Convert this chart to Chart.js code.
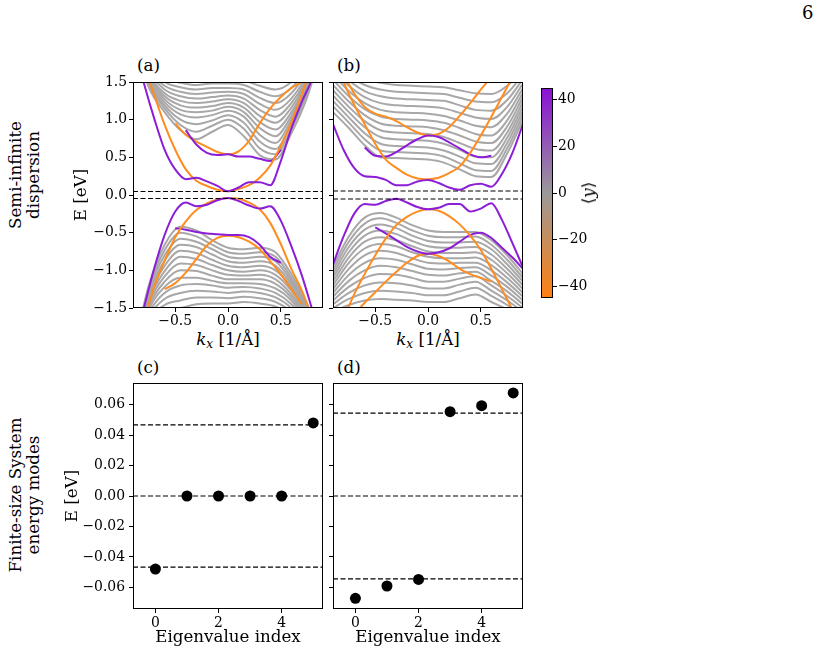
<!DOCTYPE html>
<html>
<head>
<meta charset="utf-8">
<title>Semi-infinite dispersion and finite-size modes</title>
<script src="https://cdn.jsdelivr.net/npm/chart.js@4.4.1/dist/chart.umd.min.js"></script>
<style>
  html, body { margin: 0; padding: 0; background: #fff; }
  body { position: relative; width: 820px; height: 654px; overflow: hidden;
         font-family: "DejaVu Serif", serif; color: #000; }
  canvas { position: absolute; }
  .lbl { position: absolute; font-size: 16.7px; line-height: 20px; white-space: nowrap; }
  .mid { transform: translate(-50%, -50%); }
  .rot { position: absolute; font-size: 16.7px; line-height: 18px; white-space: nowrap;
         text-align: center; transform: translate(-50%, -50%) rotate(-90deg); }
  .br { font-family: "DejaVu Serif", "DejaVu Sans", serif; }
  sub { font-size: 12px; vertical-align: -3px; line-height: 0; }
</style>
</head>
<body>
<div class="lbl" style="left:802px;top:3px;font-size:18px">6</div>
<div class="lbl" style="left:137px;top:55px">(a)</div>
<div class="lbl" style="left:337px;top:55px">(b)</div>
<div class="lbl" style="left:137px;top:357px">(c)</div>
<div class="lbl" style="left:337px;top:357px">(d)</div>
<div class="rot" style="left:24px;top:175px">Semi-infinite<br>dispersion</div>
<div class="rot" style="left:24px;top:495px">Finite-size System<br>energy modes</div>
<div class="lbl mid" style="left:228px;top:339px"><i>k</i><sub><i>x</i></sub> [1/Å]</div>
<div class="lbl mid" style="left:428px;top:339px"><i>k</i><sub><i>x</i></sub> [1/Å]</div>

<canvas id="ca" width="270" height="285" style="left:60px;top:70px"></canvas>
<canvas id="cbb" width="205" height="285" style="left:325px;top:70px"></canvas>
<canvas id="cc" width="275" height="284" style="left:55px;top:370px"></canvas>
<canvas id="cd" width="205" height="284" style="left:325px;top:370px"></canvas>
<canvas id="cbar" width="70" height="230" style="left:535px;top:78px"></canvas>
<div class="rot br" style="left:588px;top:193px">⟨<i>y</i>⟩</div>

<script>
// ---- data ----
var K_FINE = [-0.9, -0.8, -0.7, -0.6, -0.5, -0.4, -0.3, -0.2, -0.1, 0, 0.1, 0.2, 0.3, 0.4, 0.5, 0.6, 0.7, 0.8, 0.9];
var K_COARSE = [-0.9, -0.75, -0.6, -0.45, -0.3, -0.15, 0, 0.15, 0.3, 0.45, 0.6, 0.75, 0.9];
var KX_RANGE = [-0.9, 0.9];
var KX_TICKS = [-0.5, 0, 0.5];
var E_TICKS = [-1.5, -1.0, -0.5, 0, 0.5, 1.0, 1.5];

// (a) edge-like bands (purple = +<y>, orange = -<y>)
var A_PU1 = [2.05, 1.50, 1.02, 0.60, 0.34, 0.21, 0.23, 0.18, 0.12, 0.05, 0.10, 0.17, 0.17, 0.13, 0.45, 0.88, 1.24, 1.55, 2.00];
var A_OU1 = [2.20, 1.75, 1.33, 0.93, 0.60, 0.34, 0.19, 0.12, 0.07, 0.05, 0.08, 0.13, 0.23, 0.39, 0.65, 0.96, 1.34, 1.75, 2.20];
var A_PU2 = [null, null, null, null, null, 0.86, 0.67, 0.56, 0.53, 0.54, 0.51, 0.51, 0.48, 0.45, 0.60, null, null, null, null];
var A_OU2 = [null, null, null, null, 0.95, 0.80, 0.71, 0.64, 0.57, 0.54, 0.58, 0.72, 0.95, 1.15, 1.30, 1.42, 1.50, 1.60, null];
var A_PL1 = [-2.10, -1.52, -0.98, -0.53, -0.22, -0.10, -0.15, -0.13, -0.07, -0.04, -0.08, -0.14, -0.18, -0.15, -0.34, -0.68, -1.07, -1.53, -2.00];
var A_OL1 = [-2.20, -1.70, -1.22, -0.87, -0.56, -0.35, -0.20, -0.11, -0.06, -0.04, -0.05, -0.10, -0.19, -0.37, -0.65, -0.98, -1.27, -1.65, -2.10];
var A_PL2 = [null, null, null, null, -0.44, -0.46, -0.49, -0.51, -0.52, -0.53, -0.53, -0.56, -0.66, -0.82, -0.90, null, null, null, null];
var A_OL2 = [null, null, null, -1.25, -1.17, -1.03, -0.85, -0.67, -0.57, -0.54, -0.56, -0.62, -0.72, -0.88, -1.05, -1.25, -1.45, null, null];
var A_GAP = [0.047, -0.047];

// (a) bulk bands (grey), on K_COARSE
var A_UP_GRAY = [
  [2.10, 1.43, 1.10, 0.86, 0.74, 0.84, 0.93, 0.78, 0.53, 0.47, 0.82, 1.30, 2.00],
  [2.15, 1.47, 1.15, 0.93, 0.84, 0.92, 1.00, 0.88, 0.62, 0.54, 0.88, 1.35, 2.00],
  [2.20, 1.50, 1.19, 1.00, 0.94, 0.99, 1.06, 0.96, 0.71, 0.61, 0.94, 1.40, 2.00],
  [2.20, 1.53, 1.23, 1.07, 1.03, 1.06, 1.12, 1.04, 0.80, 0.69, 1.00, 1.44, 2.00],
  [2.20, 1.56, 1.27, 1.13, 1.10, 1.12, 1.17, 1.10, 0.89, 0.78, 1.05, 1.47, 2.05],
  [2.25, 1.59, 1.31, 1.19, 1.16, 1.18, 1.22, 1.16, 0.97, 0.87, 1.10, 1.50, 2.05],
  [2.25, 1.62, 1.35, 1.25, 1.22, 1.24, 1.27, 1.22, 1.05, 0.96, 1.16, 1.53, 2.05],
  [2.25, 1.65, 1.40, 1.31, 1.28, 1.30, 1.32, 1.28, 1.13, 1.04, 1.22, 1.56, 2.10],
  [2.30, 1.68, 1.45, 1.37, 1.34, 1.36, 1.37, 1.34, 1.21, 1.13, 1.28, 1.60, 2.10],
  [2.30, 1.72, 1.50, 1.43, 1.40, 1.42, 1.42, 1.40, 1.29, 1.22, 1.35, 1.65, 2.10],
  [2.30, 1.76, 1.55, 1.49, 1.46, 1.48, 1.48, 1.46, 1.37, 1.31, 1.42, 1.70, 2.15],
  [2.35, 1.80, 1.60, 1.55, 1.52, 1.54, 1.54, 1.52, 1.45, 1.40, 1.50, 1.75, 2.15]
];
var A_LO_GRAY = [
  [-2.10, -1.20, -0.66, -0.42, -0.47, -0.60, -0.70, -0.72, -0.70, -0.76, -1.05, -1.45, -2.00],
  [-2.10, -1.24, -0.73, -0.50, -0.55, -0.66, -0.76, -0.78, -0.76, -0.82, -1.10, -1.48, -2.00],
  [-2.15, -1.28, -0.80, -0.58, -0.62, -0.72, -0.82, -0.84, -0.82, -0.88, -1.14, -1.51, -2.00],
  [-2.15, -1.32, -0.87, -0.66, -0.69, -0.79, -0.88, -0.90, -0.88, -0.94, -1.18, -1.54, -2.05],
  [-2.15, -1.36, -0.94, -0.74, -0.77, -0.86, -0.94, -0.96, -0.94, -1.00, -1.22, -1.57, -2.05],
  [-2.20, -1.40, -1.01, -0.82, -0.85, -0.93, -1.00, -1.02, -1.00, -1.06, -1.27, -1.60, -2.05],
  [-2.20, -1.44, -1.08, -0.91, -0.93, -1.00, -1.06, -1.07, -1.06, -1.12, -1.32, -1.63, -2.10],
  [-2.20, -1.48, -1.15, -1.00, -1.01, -1.07, -1.12, -1.12, -1.12, -1.18, -1.36, -1.66, -2.10],
  [-2.25, -1.53, -1.22, -1.10, -1.10, -1.14, -1.17, -1.17, -1.18, -1.24, -1.40, -1.69, -2.10],
  [-2.25, -1.58, -1.30, -1.20, -1.18, -1.20, -1.23, -1.22, -1.24, -1.30, -1.45, -1.72, -2.15],
  [-2.25, -1.63, -1.38, -1.30, -1.27, -1.28, -1.30, -1.28, -1.30, -1.36, -1.50, -1.76, -2.15],
  [-2.30, -1.68, -1.46, -1.40, -1.36, -1.36, -1.37, -1.35, -1.37, -1.42, -1.55, -1.80, -2.15],
  [-2.30, -1.73, -1.54, -1.50, -1.45, -1.44, -1.44, -1.42, -1.44, -1.48, -1.60, -1.85, -2.20]
];

// (b) edge-like bands
var B_PU1 = [0.94, 0.60, 0.36, 0.25, 0.24, 0.20, 0.13, 0.13, 0.18, 0.20, 0.16, 0.10, 0.07, 0.13, 0.15, 0.11, 0.28, 0.56, 0.94];
var B_OU1 = [1.90, 1.50, 1.20, 0.94, 0.68, 0.47, 0.36, 0.27, 0.22, 0.21, 0.23, 0.29, 0.38, 0.56, 0.79, 1.04, 1.30, 1.57, 1.90];
var B_PU2 = [null, null, null, 0.63, 0.52, 0.51, 0.57, 0.66, 0.74, 0.79, 0.77, 0.70, 0.62, 0.54, 0.50, 0.52, null, null, null];
var B_OU2 = [null, 1.60, 1.35, 1.17, 1.08, 1.04, 0.98, 0.90, 0.83, 0.79, 0.81, 0.90, 1.05, 1.22, 1.40, 1.56, null, null, null];
var B_PL1 = [-0.92, -0.55, -0.25, -0.12, -0.13, -0.08, -0.05, -0.10, -0.16, -0.19, -0.17, -0.12, -0.12, -0.22, -0.18, -0.11, -0.33, -0.64, -0.96];
var B_OL1 = [-2.00, -1.65, -1.32, -1.05, -0.80, -0.58, -0.40, -0.29, -0.22, -0.19, -0.21, -0.28, -0.39, -0.54, -0.73, -0.98, -1.25, -1.53, -1.90];
var B_PL2 = [null, null, null, null, -0.43, -0.51, -0.60, -0.69, -0.75, -0.78, -0.76, -0.71, -0.62, -0.53, -0.50, -0.57, -0.70, -0.83, -0.98];
var B_OL2 = [null, -1.72, -1.58, -1.43, -1.29, -1.15, -1.02, -0.90, -0.81, -0.78, -0.81, -0.88, -0.98, -1.05, -1.10, -1.15, null, null, null];
var B_GAP = [0.053, -0.053];

var B_UP_GRAY = [
  [1.10, 0.89, 0.66, 0.50, 0.49, 0.48, 0.47, 0.43, 0.34, 0.25, 0.24, 0.55, 1.00],
  [1.18, 0.96, 0.74, 0.59, 0.57, 0.56, 0.55, 0.51, 0.42, 0.33, 0.32, 0.62, 1.06],
  [1.25, 1.03, 0.82, 0.68, 0.65, 0.64, 0.63, 0.59, 0.51, 0.42, 0.41, 0.69, 1.12],
  [1.32, 1.10, 0.90, 0.77, 0.74, 0.73, 0.72, 0.68, 0.60, 0.51, 0.50, 0.76, 1.18],
  [1.39, 1.17, 0.98, 0.86, 0.83, 0.82, 0.81, 0.77, 0.69, 0.61, 0.59, 0.83, 1.24],
  [1.46, 1.24, 1.06, 0.95, 0.92, 0.91, 0.90, 0.86, 0.79, 0.71, 0.69, 0.91, 1.30],
  [1.53, 1.31, 1.14, 1.04, 1.01, 1.00, 0.99, 0.96, 0.89, 0.81, 0.79, 0.99, 1.36],
  [1.60, 1.38, 1.22, 1.13, 1.10, 1.09, 1.08, 1.05, 0.99, 0.92, 0.90, 1.08, 1.42],
  [1.66, 1.45, 1.30, 1.22, 1.19, 1.18, 1.17, 1.15, 1.09, 1.03, 1.01, 1.17, 1.48],
  [1.72, 1.52, 1.38, 1.31, 1.28, 1.27, 1.26, 1.25, 1.19, 1.13, 1.12, 1.26, 1.54],
  [1.78, 1.59, 1.46, 1.40, 1.37, 1.36, 1.35, 1.34, 1.29, 1.24, 1.23, 1.35, 1.60],
  [1.85, 1.66, 1.54, 1.49, 1.46, 1.45, 1.44, 1.43, 1.39, 1.35, 1.34, 1.45, 1.66]
];
var B_LO_GRAY = [
  [-0.95, -0.55, -0.30, -0.24, -0.30, -0.40, -0.47, -0.49, -0.49, -0.49, -0.60, -0.80, -1.05],
  [-1.00, -0.62, -0.38, -0.31, -0.37, -0.47, -0.54, -0.56, -0.56, -0.55, -0.66, -0.86, -1.10],
  [-1.05, -0.69, -0.46, -0.39, -0.44, -0.54, -0.61, -0.63, -0.63, -0.62, -0.72, -0.92, -1.15],
  [-1.10, -0.76, -0.54, -0.47, -0.52, -0.61, -0.68, -0.70, -0.70, -0.69, -0.79, -0.98, -1.20],
  [-1.15, -0.83, -0.62, -0.56, -0.60, -0.68, -0.75, -0.77, -0.77, -0.76, -0.86, -1.04, -1.25],
  [-1.20, -0.90, -0.71, -0.65, -0.68, -0.76, -0.82, -0.84, -0.84, -0.83, -0.93, -1.10, -1.30],
  [-1.25, -0.98, -0.80, -0.74, -0.77, -0.84, -0.90, -0.91, -0.90, -0.90, -1.00, -1.16, -1.35],
  [-1.30, -1.06, -0.90, -0.84, -0.86, -0.92, -0.98, -0.99, -0.97, -0.96, -1.07, -1.22, -1.40],
  [-1.35, -1.14, -1.00, -0.94, -0.96, -1.01, -1.06, -1.07, -1.04, -1.02, -1.14, -1.28, -1.45],
  [-1.40, -1.22, -1.10, -1.05, -1.06, -1.10, -1.15, -1.15, -1.11, -1.08, -1.20, -1.34, -1.50],
  [-1.45, -1.30, -1.20, -1.16, -1.17, -1.20, -1.24, -1.24, -1.19, -1.15, -1.27, -1.40, -1.55],
  [-1.50, -1.38, -1.30, -1.27, -1.28, -1.30, -1.33, -1.33, -1.28, -1.23, -1.34, -1.46, -1.60],
  [-1.55, -1.46, -1.40, -1.38, -1.39, -1.40, -1.42, -1.42, -1.37, -1.32, -1.42, -1.52, -1.65]
];

// (c), (d) finite-size eigenvalues
var IDX = [0, 1, 2, 3, 4, 5];
var C_E = [-0.048, 0, 0, 0, 0, 0.048];
var D_E = [-0.0672, -0.0591, -0.0548, 0.0554, 0.0593, 0.0677];
var C_LINES = [0.0467, 0, -0.0467];
var D_LINES = [0.0544, 0, -0.0544];
var IDX_RANGE = [-0.71, 5.31];
var IDX_TICKS = [0, 2, 4];
var SMALL_E_TICKS = [-0.06, -0.04, -0.02, 0, 0.02, 0.04, 0.06];
var SMALL_E_LIM = 0.0742;

// colour bar
var CB_MIN = -45, CB_MAX = 45;
var CB_TICKS = [-40, -20, 0, 20, 40];
var CB_COLORS = ["#ff8010", "#9b9999", "#8a10d6"];

// ---- styling ----
var PURPLE = "#8b1ed6", ORANGE = "#ff8c1e", GRAY = "#a9a7a7";
var DASH = [5, 2.5];
var FONT_TICK = { family: "'DejaVu Serif', serif", size: 13.9 };
var FONT_LAB = { family: "'DejaVu Serif', serif", size: 16.7 };

Chart.defaults.font.family = "'DejaVu Serif', serif";
Chart.defaults.color = "#000";

function fmt(v, d) {
  return (v < 0 ? "\u2212" : "") + Math.abs(v).toFixed(d);
}

function pts(K, E) {
  var out = [];
  K.forEach(function (k, i) { if (E[i] !== null) out.push({ x: k, y: E[i] }); });
  return out;
}

function line(K, E, color, width, dash) {
  return {
    data: pts(K, E), showLine: true, borderColor: color, borderWidth: width,
    borderDash: dash || [], pointRadius: 0, cubicInterpolationMode: "monotone", clip: 0
  };
}

// axes box around the plot area, like matplotlib spines
var frame = {
  id: "frame",
  afterDraw: function (chart) {
    var a = chart.chartArea, c = chart.ctx;
    c.save();
    c.strokeStyle = "#000";
    c.lineWidth = 1;
    c.strokeRect(Math.round(a.left) + 0.5, Math.round(a.top) + 0.5,
      Math.round(a.right - a.left) - 1, Math.round(a.bottom - a.top) - 1);
    c.restore();
  }
};

function axis(o) {
  return {
    type: "linear", min: o.min, max: o.max, position: o.position,
    afterBuildTicks: function (s) { s.ticks = o.ticks.map(function (v) { return { value: v }; }); },
    afterFit: function (s) {
      if (o.w != null) s.width = o.w;
      if (o.h != null) s.height = o.h;
    },
    grid: { drawOnChartArea: false, drawTicks: true, tickLength: 4, color: "#000", tickColor: "#000", tickWidth: 1 },
    border: { display: false },
    ticks: {
      display: o.labels !== false, padding: o.pad, color: "#000", font: FONT_TICK,
      maxRotation: 0, autoSkip: false,
      callback: function (v) { return fmt(v, o.dec); }
    },
    title: o.title ? { display: true, text: o.title, color: "#000", font: FONT_LAB, padding: o.tpad } : { display: false }
  };
}

function base(pad, scales) {
  return {
    responsive: false, animation: false, events: [],
    layout: { padding: pad },
    plugins: { legend: { display: false }, tooltip: { enabled: false } },
    scales: scales
  };
}

function bandPanel(id, o) {
  var ds = [];
  o.gap.forEach(function (g) { ds.push(line(KX_RANGE, [g, g], "#000", 1.1, DASH)); });
  o.colored.forEach(function (c) { ds.push(line(K_FINE, c[0], c[1], 2)); });
  o.grays.forEach(function (g) { ds.push(line(K_COARSE, g, GRAY, 2)); });
  return new Chart(document.getElementById(id), {
    type: "scatter",
    data: { datasets: ds },
    options: base(o.pad, {
      x: axis({ min: KX_RANGE[0], max: KX_RANGE[1], ticks: KX_TICKS, dec: 1, h: 47, pad: 1 }),
      y: axis({ min: -1.5, max: 1.5, ticks: E_TICKS, dec: 1, w: o.yw, pad: 2, labels: o.ylabels,
                title: o.ylabels ? "E [eV]" : null, tpad: { top: 12, bottom: 0 } })
    }),
    plugins: [frame]
  });
}

function modesPanel(id, o) {
  var ds = [{
    data: pts(IDX, o.E), pointRadius: 5.5, pointBackgroundColor: "#000",
    pointBorderWidth: 0, showLine: false
  }];
  o.lines.forEach(function (v) { ds.push(line(IDX_RANGE, [v, v], "#000", 1.1, DASH)); });
  return new Chart(document.getElementById(id), {
    type: "scatter",
    data: { datasets: ds },
    options: base(o.pad, {
      x: axis({ min: IDX_RANGE[0], max: IDX_RANGE[1], ticks: IDX_TICKS, dec: 0, h: 45, pad: 2,
                title: "Eigenvalue index", tpad: { top: 0, bottom: 6 } }),
      y: axis({ min: -SMALL_E_LIM, max: SMALL_E_LIM, ticks: SMALL_E_TICKS, dec: 2, w: o.yw, pad: 4,
                labels: o.ylabels, title: o.ylabels ? "E [eV]" : null, tpad: { top: 8, bottom: 0 } })
    }),
    plugins: [frame]
  });
}

bandPanel("ca", {
  pad: { top: 12, right: 7, bottom: 0, left: 0 }, yw: 73, ylabels: true, gap: A_GAP,
  colored: [[A_PU1, PURPLE], [A_OU1, ORANGE], [A_PU2, PURPLE], [A_OU2, ORANGE],
            [A_PL1, PURPLE], [A_OL1, ORANGE], [A_PL2, PURPLE], [A_OL2, ORANGE]],
  grays: A_UP_GRAY.concat(A_LO_GRAY)
});

bandPanel("cbb", {
  pad: { top: 12, right: 7, bottom: 0, left: 0 }, yw: 8, ylabels: false, gap: B_GAP,
  colored: [[B_PU1, PURPLE], [B_OU1, ORANGE], [B_PU2, PURPLE], [B_OU2, ORANGE],
            [B_PL1, PURPLE], [B_OL1, ORANGE], [B_PL2, PURPLE], [B_OL2, ORANGE]],
  grays: B_UP_GRAY.concat(B_LO_GRAY)
});

modesPanel("cc", { pad: { top: 13, right: 7, bottom: 0, left: 0 }, yw: 78, ylabels: true, E: C_E, lines: C_LINES });
modesPanel("cd", { pad: { top: 13, right: 7, bottom: 0, left: 0 }, yw: 8, ylabels: false, E: D_E, lines: D_LINES });

function cbFill(ctx) {
  var ch = ctx.chart, y = ch.scales.y;
  if (!ch.chartArea || !y) return CB_COLORS[1];
  var g = ch.ctx.createLinearGradient(0, y.getPixelForValue(CB_MIN), 0, y.getPixelForValue(CB_MAX));
  g.addColorStop(0, CB_COLORS[0]);
  g.addColorStop(0.5, CB_COLORS[1]);
  g.addColorStop(1, CB_COLORS[2]);
  return g;
}

// colour bar: canvas 535..605, plot area 541..553, right axis 52 px wide
new Chart(document.getElementById("cbar"), {
  type: "bar",
  data: {
    labels: [""],
    datasets: [{ data: [[CB_MIN, CB_MAX]], backgroundColor: cbFill, borderWidth: 0,
                 barPercentage: 1, categoryPercentage: 1 }]
  },
  options: base({ top: 10, bottom: 10, left: 6, right: 0 }, {
    x: { display: false },
    y: axis({ min: CB_MIN, max: CB_MAX, ticks: CB_TICKS, dec: 0, w: 52, pad: 1, position: "right" })
  }),
  plugins: [frame]
});
</script>
</body>
</html>
